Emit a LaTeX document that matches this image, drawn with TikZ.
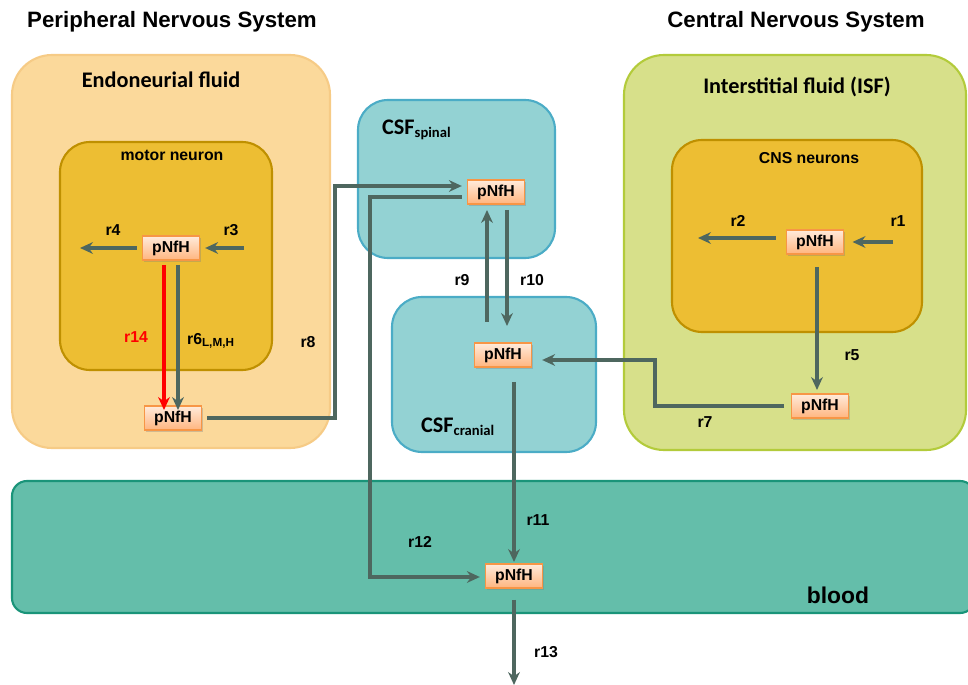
\documentclass[tikz,border=0pt]{standalone}
\usepackage{fontspec}
\setmainfont{Liberation Sans}
\newfontfamily\calib{Carlito}
\usetikzlibrary{arrows.meta,shadows}
\definecolor{endofill}{HTML}{FBD99B}
\definecolor{endodraw}{HTML}{F6CB86}
\definecolor{motorfill}{HTML}{EDBE33}
\definecolor{motordraw}{HTML}{BF9000}
\definecolor{csffill}{HTML}{93D2D3}
\definecolor{csfdraw}{HTML}{4BACC6}
\definecolor{isffill}{HTML}{D7E08A}
\definecolor{isfdraw}{HTML}{B3CB3B}
\definecolor{bloodfill}{HTML}{64BEAA}
\definecolor{blooddraw}{HTML}{1A9479}
\definecolor{arr}{HTML}{4E675F}
\definecolor{ptop}{HTML}{FFEBDB}
\definecolor{pbot}{HTML}{FFB57F}
\definecolor{pdraw}{HTML}{F79646}
\tikzset{
  region/.style={draw, line width=1.8pt},
  pbox/.style={draw=pdraw, line width=1.4pt, top color=ptop, bottom color=pbot,
    minimum width=1.7cm, minimum height=0.72cm, inner sep=0pt,
    font=\bfseries\fontsize{13.5}{15}\selectfont,
    drop shadow={opacity=0.35, shadow xshift=1.5pt, shadow yshift=-1.5pt}},
  flow/.style={draw=arr, line width=3pt, -{Stealth[length=11pt,width=10pt]}},
  lbl/.style={font=\bfseries\fontsize{13.5}{16}\selectfont},
  title/.style={font=\bfseries\fontsize{19}{22}\selectfont},
  cal/.style={font=\calib\bfseries\fontsize{19}{22}\selectfont},
  small/.style={font=\bfseries\fontsize{13.5}{16}\selectfont}
}
\begin{document}
\begin{tikzpicture}[x=0.03cm,y=-0.03cm]
\useasboundingbox (0,0) rectangle (968,685);
% regions
\draw[region, fill=endofill, draw=endodraw, rounded corners=1.2cm] (12,55) rectangle (330,448);
\draw[region, fill=motorfill, draw=motordraw, rounded corners=0.9cm] (60,142) rectangle (272,370);
\draw[region, fill=csffill, draw=csfdraw, rounded corners=0.9cm] (358,100) rectangle (555,258);
\draw[region, fill=csffill, draw=csfdraw, rounded corners=0.9cm] (392,297) rectangle (596,452);
\draw[region, fill=isffill, draw=isfdraw, rounded corners=1.2cm] (624,55) rectangle (966,450);
\draw[region, fill=motorfill, draw=motordraw, rounded corners=0.9cm] (672,140) rectangle (922,332);
\draw[region, fill=bloodfill, draw=blooddraw, rounded corners=0.45cm] (12,481) rectangle (975,613);
% titles
\node[title] (tpns) at (172,22) {Peripheral Nervous System};
\node[title] (tcns) at (796,22) {Central Nervous System};
\node[cal] (tendo) at (161,80) {Endoneurial fluid};
\node[cal] (tisf) at (797,87) {Interstitial fluid (ISF)};
\node[cal, anchor=west] (tcsfs) at (378,130) {CSF\textsubscript{\fontsize{12.5}{14}\selectfont spinal}};
\node[cal, anchor=west] (tcsfc) at (417,427) {CSF\textsubscript{\fontsize{12.5}{14}\selectfont cranial}};
\node[small] (tmotor) at (172,155) {motor neuron};
\node[small] (tcnsn) at (809,158) {CNS neurons};
\node[font=\bfseries\fontsize{19.5}{22}\selectfont] (tblood) at (838,595) {blood};
% pNfH nodes
\node[pbox] (p1) at (171,248) {pNfH};
\node[pbox] (p2) at (173,418) {pNfH};
\node[pbox] (p3) at (496,192) {pNfH};
\node[pbox] (p4) at (503,355) {pNfH};
\node[pbox] (p5) at (815,242) {pNfH};
\node[pbox] (p6) at (820,406) {pNfH};
\node[pbox] (p7) at (514,576) {pNfH};
% free ends
\coordinate (r4e) at (80,248);
\coordinate (r3s) at (244,248);
\coordinate (r2e) at (698,238);
\coordinate (r1s) at (893,242);
\coordinate (r13e) at (514,685);
% arrows
\draw[flow] ([xshift=-0.15cm]p1.west) -- (r4e);
\draw[flow] (r3s) -- ([xshift=0.15cm]p1.east);
\draw[flow, draw=red] (164,265) -- (164,410);
\draw[flow] (178,265) -- (178,410);
\draw[flow] ([xshift=0.15cm]p2.east) -- (335,418) -- (335,186) -- ([xshift=-0.15cm]p3.west |- 0,186);
\draw[flow] ([xshift=-0.15cm]p3.west |- 0,197) -- (370,197) -- (370,577) -- ([xshift=-0.15cm]p7.west |- 0,577);
\draw[flow] (487,322) -- (487,210);
\draw[flow] (507,210) -- (507,326);
\draw[flow] ([xshift=-0.2cm]p6.west) -- (655,406) -- (655,360) -- ([xshift=0.3cm]p4.east |- 0,360);
\draw[flow] (817,267) -- (817,390);
\draw[flow] ([xshift=-0.3cm]p5.west |- 0,238) -- (r2e);
\draw[flow] (r1s) -- ([xshift=0.25cm]p5.east);
\draw[flow] (514,382) -- (514,562);
\draw[flow] (514,600) -- (r13e);
% labels
\node[lbl] (l4) at (113,230) {r4};
\node[lbl] (l3) at (231,230) {r3};
\node[lbl, text=red] (l14) at (136,337) {r14};
\node[lbl, anchor=west] (l6) at (183,341) {r6\textsubscript{\fontsize{10}{12}\selectfont L,M,H}};
\node[lbl] (l8) at (308,342) {r8};
\node[lbl] (l9) at (462,280) {r9};
\node[lbl] (l10) at (532,280) {r10};
\node[lbl] (l2) at (738,221) {r2};
\node[lbl] (l1) at (898,221) {r1};
\node[lbl] (l5) at (852,355) {r5};
\node[lbl] (l7) at (705,422) {r7};
\node[lbl] (l11) at (538,520) {r11};
\node[lbl] (l12) at (420,542) {r12};
\node[lbl] (l13) at (546,652) {r13};
\end{tikzpicture}
\end{document}
